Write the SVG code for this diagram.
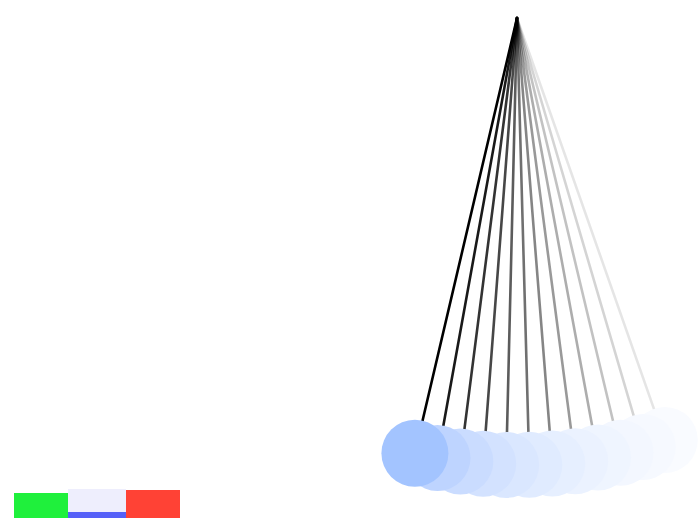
<svg xmlns="http://www.w3.org/2000/svg" width="700" height="520" viewBox="0 0 700 520">
<style>
.rod{stroke:#000;stroke-width:2.6;stroke-linecap:round}
.bob{stroke:none}
</style>
<rect width="700" height="520" fill="#fff"/>
<g id="rods">
<line class="rod" x1="517" y1="18" x2="414.9" y2="453.2" stroke-opacity="1" stroke-width="3.2"/>
<line class="rod" x1="517" y1="18" x2="437.5" y2="457.9" stroke-opacity="0.9"/>
<line class="rod" x1="517" y1="18" x2="460.3" y2="461.4" stroke-opacity="0.8"/>
<line class="rod" x1="517" y1="18" x2="483.2" y2="463.7" stroke-opacity="0.72"/>
<line class="rod" x1="517" y1="18" x2="506.2" y2="464.9" stroke-opacity="0.64"/>
<line class="rod" x1="517" y1="18" x2="529.3" y2="464.8" stroke-opacity="0.56"/>
<line class="rod" x1="517" y1="18" x2="552.3" y2="463.6" stroke-opacity="0.48"/>
<line class="rod" x1="517" y1="18" x2="575.2" y2="461.2" stroke-opacity="0.4"/>
<line class="rod" x1="517" y1="18" x2="598.0" y2="457.6" stroke-opacity="0.32"/>
<line class="rod" x1="517" y1="18" x2="620.6" y2="452.8" stroke-opacity="0.24"/>
<line class="rod" x1="517" y1="18" x2="642.8" y2="446.9" stroke-opacity="0.17"/>
<line class="rod" x1="517" y1="18" x2="664.8" y2="439.9" stroke-opacity="0.1"/>
</g>
<g id="bobs">
<circle id="bob12" class="bob" cx="664.8" cy="439.9" r="33" fill="#f9fbff"/>
<circle id="bob11" class="bob" cx="642.8" cy="446.9" r="33" fill="#f6f9ff"/>
<circle id="bob10" class="bob" cx="620.6" cy="452.8" r="33" fill="#f3f7ff"/>
<circle id="bob9" class="bob" cx="598.0" cy="457.6" r="33" fill="#eff5ff"/>
<circle id="bob8" class="bob" cx="575.2" cy="461.2" r="33" fill="#ebf2ff"/>
<circle id="bob7" class="bob" cx="552.3" cy="463.6" r="33" fill="#e6efff"/>
<circle id="bob6" class="bob" cx="529.3" cy="464.8" r="33" fill="#e0ebff"/>
<circle id="bob5" class="bob" cx="506.2" cy="464.9" r="33" fill="#dae7ff"/>
<circle id="bob4" class="bob" cx="483.2" cy="463.7" r="33" fill="#d3e2ff"/>
<circle id="bob3" class="bob" cx="460.3" cy="461.4" r="33" fill="#cadcff"/>
<circle id="bob2" class="bob" cx="437.5" cy="457.9" r="33" fill="#bed4ff"/>
<circle id="bob1" class="bob" cx="414.9" cy="453.2" r="33.5" fill="#a3c4ff"/>
</g>
<g id="legend">
<rect x="14" y="493" width="54" height="25" fill="#1ff03c"/>
<rect x="68" y="489" width="58" height="23" fill="#eeeefd"/>
<rect x="68" y="512" width="58" height="6" fill="#5560f8"/>
<rect x="126" y="490" width="54" height="28" fill="#ff4235"/>
</g>
</svg>
